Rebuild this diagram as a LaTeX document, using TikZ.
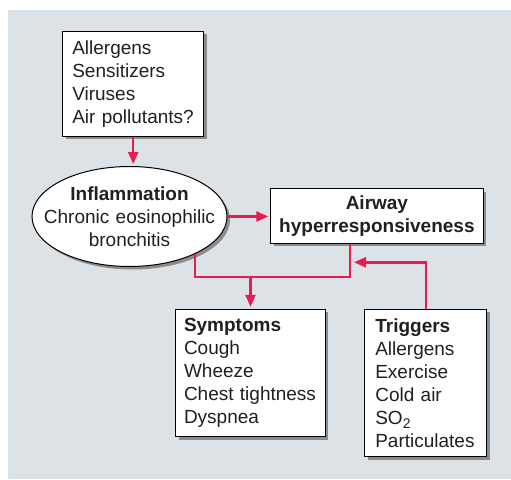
\documentclass[tikz,border=0pt]{standalone}
\usepackage{fontspec}
\setmainfont{Liberation Sans}
\usetikzlibrary{arrows.meta,shapes.geometric,shadows}
\definecolor{bg}{RGB}{220,226,229}
\definecolor{arrcol}{RGB}{232,28,79}
\definecolor{txt}{RGB}{35,31,32}
\newcommand{\mysubtwo}{\raisebox{-4pt}{\fontsize{14}{14}\selectfont 2}}
\newcommand{\mynohyph}{\hyphenpenalty=10000\relax\exhyphenpenalty=10000\relax}
\tikzset{
  shad/.style={drop shadow={shadow xshift=3pt,shadow yshift=-3pt,opacity=1,fill=black!45}},
  boxnode/.style={draw=black,line width=1pt,fill=white,shad,inner sep=0pt,align=left,text=txt,
    font=\fontsize{19}{23}\selectfont,execute at begin node=\mynohyph},
  ellnode/.style={ellipse,draw=black,line width=1pt,fill=white,shad,inner xsep=-20pt,inner ysep=0pt,
    align=center,text=txt,font=\fontsize{19}{23}\selectfont},
  link/.style={draw=arrcol,line width=2.4pt},
  arrow/.style={link,-{Triangle[length=12pt,width=10pt]},shorten >=2pt}
}
\begin{document}
\begin{tikzpicture}[x=1pt,y=-1pt]
\useasboundingbox (0,0) rectangle (511,479);
\fill[bg] (8,10) rectangle (511,479);

\node[boxnode,minimum width=141pt,minimum height=104.7pt,text width=121.8pt] (src) at (133.2,83.7)
  {Allergens\\Sensitizers\\Viruses\\Air pollutants?};
\node[ellnode,minimum width=195pt,minimum height=100pt,text width=176pt] (infl) at (129.5,216.5)
  {\textbf{Inflammation}\\Chronic eosinophilic\\bronchitis};
\node[boxnode,align=center,minimum width=212.3pt,minimum height=54.6pt] (air) at (376.9,216)
  {\textbf{Airway}\\\textbf{hyperresponsiveness}};
\node[boxnode,minimum width=149.6pt,minimum height=127.4pt,text width=133pt] (sym) at (250.5,373)
  {\textbf{Symptoms}\\Cough\\Wheeze\\Chest tightness\\Dyspnea};
\node[boxnode,minimum width=121.7pt,minimum height=147.4pt,text width=101pt] (trig) at (425.8,383)
  {\textbf{Triggers}\\Allergens\\Exercise\\Cold air\\SO\mysubtwo\\Particulates};

\coordinate (j) at (350,277);
\coordinate (k) at (354,262.3);

\draw[arrow] (src.south) -- (src.south |- infl.north);
\draw[arrow] (infl.east) -- (infl.east -| air.west);
\draw[link] (infl.-30) |- (j) -- (j |- air.south);
\draw[arrow] (j -| sym.north) -- (sym.north);
\draw[arrow,shorten >=0pt] (trig.north) |- (k);
\end{tikzpicture}
\end{document}
